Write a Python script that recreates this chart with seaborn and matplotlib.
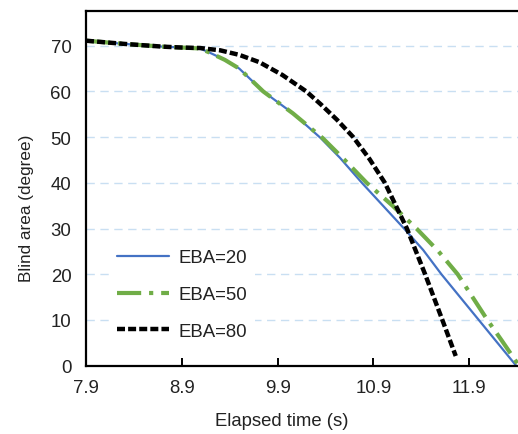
import matplotlib
matplotlib.use("Agg")
import matplotlib.pyplot as plt
import seaborn as sns
import pandas as pd

# ---- data ----
blue_x = [7.9, 8.3, 8.7, 8.9, 9.09, 9.19, 9.35, 9.5, 9.75, 10.06, 10.35, 10.55, 10.78, 11.0, 11.22, 11.42, 11.61, 12.0, 12.39]
blue_y = [71.1, 70.4, 69.8, 69.6, 69.4, 68.5, 66.9, 65.0, 60.0, 55.2, 49.8, 45.5, 40.0, 35.0, 30.0, 25.3, 20.0, 10.0, 0.0]

green_x = [7.9, 8.3, 8.7, 8.9, 9.09, 9.19, 9.35, 9.5, 9.75, 10.06, 10.37, 10.6, 10.83, 11.1, 11.35, 11.58, 11.78, 12.09, 12.24, 12.41]
green_y = [71.1, 70.4, 69.8, 69.6, 69.4, 68.5, 66.9, 65.0, 60.0, 55.2, 49.8, 45.0, 40.0, 35.0, 30.0, 25.0, 20.0, 10.0, 5.5, 0.3]

black_x = [7.9, 8.3, 8.7, 8.9, 9.09, 9.3, 9.5, 9.71, 9.95, 10.2, 10.35, 10.52, 10.69, 10.86, 11.02, 11.25, 11.44, 11.62, 11.76]
black_y = [71.1, 70.4, 69.8, 69.6, 69.5, 69.0, 68.0, 66.4, 63.6, 60.0, 57.2, 53.8, 50.0, 45.2, 40.0, 30.0, 20.0, 10.0, 2.1]

series_labels = ["EBA=20", "EBA=50", "EBA=80"]
x_ticks = [7.9, 8.9, 9.9, 10.9, 11.9]
y_ticks = [0, 10, 20, 30, 40, 50, 60, 70]

sns.set_style("white")
plt.rcParams["font.family"] = ["Liberation Sans", "DejaVu Sans"]

fig = plt.figure(figsize=(5.18, 4.35), dpi=100)
ax = fig.add_axes([86 / 518, 1 - 366.6 / 435, 1 - 86 / 518, (366.6 - 12) / 435])

# gridlines
for yv in y_ticks[1:]:
    ax.axhline(yv, color="#C9DFF2", lw=1.0, ls=(0, (6, 4)), zorder=0)

sns.lineplot(x=blue_x, y=blue_y, ax=ax, color="#4472C4", lw=1.6,
             label=series_labels[0], sort=False, errorbar=None)
sns.lineplot(x=green_x, y=green_y, ax=ax, color="#70AD47", lw=3.0,
             linestyle=(0, (5.8, 1.9, 1.0, 1.9)),
             label=series_labels[1], sort=False, errorbar=None)
sns.lineplot(x=black_x, y=black_y, ax=ax, color="black", lw=3.2,
             linestyle=(0, (1.8, 0.7)),
             label=series_labels[2], sort=False, errorbar=None)

ax.set_xlim(7.9, 12.41)
ax.set_ylim(0, 77.6)
ax.set_xticks(x_ticks)
ax.set_xticklabels([f"{v:.1f}" for v in x_ticks])
ax.set_yticks(y_ticks)

for s in ["left", "bottom", "top"]:
    ax.spines[s].set_visible(True)
    ax.spines[s].set_color("black")
    ax.spines[s].set_linewidth(1.6)
ax.spines["right"].set_visible(False)

ax.tick_params(axis="x", direction="in", length=6, width=1.4, pad=10,
               labelsize=13.4, colors="black", labelcolor="#222222", bottom=True)
ax.tick_params(axis="y", length=0, pad=10.5, labelsize=13.4, labelcolor="#222222", left=True)

ax.set_xlabel("Elapsed time (s)", fontsize=13.3, color="#222222")
ax.set_ylabel("Blind area (degree)", fontsize=12.3, color="#222222")
ax.xaxis.set_label_coords((281.5 - 86) / 432, -0.13)
ax.yaxis.set_label_coords(-0.12, 0.447)

leg = ax.legend(loc="upper left", bbox_to_anchor=((110 - 86) / 432, (366.6 - 243) / 354.6),
                frameon=True, fontsize=13.4, handlelength=2.75, handletextpad=0.55,
                labelspacing=1.05, borderpad=0.4, borderaxespad=0.0)
leg.get_frame().set_facecolor("white")
leg.get_frame().set_edgecolor("none")
leg.get_frame().set_alpha(1.0)
leg.get_frame().set_boxstyle("square", pad=0)
for t in leg.get_texts():
    t.set_color("#222222")

fig.savefig("out.png", dpi=100)
